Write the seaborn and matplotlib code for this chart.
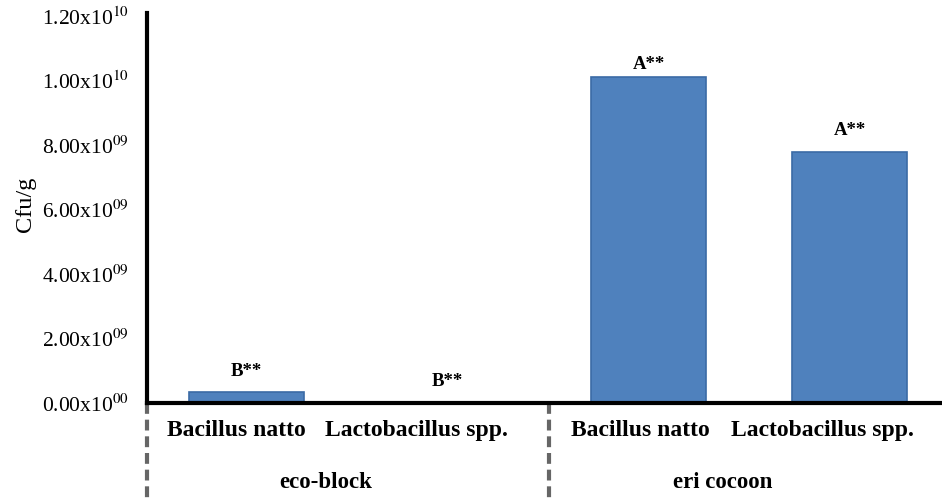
import matplotlib
matplotlib.use("Agg")
import matplotlib.pyplot as plt
import seaborn as sns
import pandas as pd

groups = ["eco-block", "eco-block", "eri cocoon", "eri cocoon"]
strains = ["Bacillus natto", "Lactobacillus spp.", "Bacillus natto", "Lactobacillus spp."]
cfu = [3.4e8, 3.0e7, 1.01e10, 7.8e9]
letters = ["B**", "B**", "A**", "A**"]
group_names = ["eco-block", "eri cocoon"]
ytick_vals = [0, 2e9, 4e9, 6e9, 8e9, 1.0e10, 1.2e10]
ytick_labels = [r"0.00x10$^{00}$", r"2.00x10$^{09}$", r"4.00x10$^{09}$", r"6.00x10$^{09}$",
                r"8.00x10$^{09}$", r"1.00x10$^{10}$", r"1.20x10$^{10}$"]

df = pd.DataFrame({"key": [g + "|" + s for g, s in zip(groups, strains)],
                   "strain": strains, "cfu": cfu})

sns.set_style("white")
plt.rcParams["font.family"] = ["Liberation Serif", "DejaVu Serif"]
plt.rcParams["mathtext.fontset"] = "stix"
plt.rcParams["text.color"] = "black"
plt.rcParams["xtick.color"] = "black"
plt.rcParams["ytick.color"] = "black"
plt.rcParams["axes.labelcolor"] = "black"

fig = plt.figure(figsize=(9.42, 5.0), dpi=100)
ax = fig.add_axes([0.156, 0.194, 0.844, 0.78])

sns.barplot(data=df, x="key", y="cfu", order=list(df["key"]), color="#4F81BD",
            saturation=1, width=0.57, edgecolor="#3B6BA5", linewidth=1.2, ax=ax)

ax.set_xlim(-0.495, 3.46)
ax.set_ylim(0, 1.21e10)
ax.set_yticks(ytick_vals)
ax.set_yticklabels(ytick_labels, fontsize=15.5)
# tick labels sit slightly left of bar centres in the original
label_shift = [-0.052, -0.152, -0.04, -0.134]
ax.set_xticks([i + s for i, s in enumerate(label_shift)])
ax.set_xticklabels(strains, fontsize=17, fontweight="bold")
ax.tick_params(axis="both", length=0)
ax.tick_params(axis="y", pad=13)
ax.tick_params(axis="x", pad=12)
ax.set_xlabel("")
ax.set_ylabel("Cfu/g", fontsize=17.5)
ax.yaxis.set_label_coords(-0.14, 0.51)

for sp in ["top", "right"]:
    ax.spines[sp].set_visible(False)
for sp in ["left", "bottom"]:
    ax.spines[sp].set_color("black")
    ax.spines[sp].set_linewidth(3)

ann_offset = [9, 9, 3, 9]
for i, (v, t) in enumerate(zip(cfu, letters)):
    ax.annotate(t, (i, v), xytext=(0, ann_offset[i]), textcoords="offset points",
                ha="center", va="bottom", fontsize=13.5, fontweight="bold")

# group separators and labels
for xs in [-0.495, 1.505]:
    ax.plot([xs, xs], [0, -0.32], transform=ax.get_xaxis_transform(), clip_on=False,
            color="#666666", lw=3, ls=(0, (2.6, 1.4)))
for gx, gname in zip([0.395, 2.37], group_names):
    ax.text(gx, -0.203, gname, transform=ax.get_xaxis_transform(), ha="center",
            va="center", fontsize=16.5, fontweight="bold")

fig.savefig("out.png", dpi=100)
